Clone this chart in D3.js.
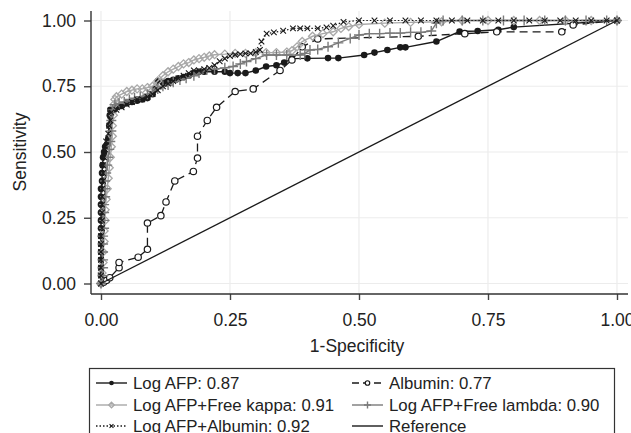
<!DOCTYPE html>
<html><head><meta charset="utf-8">
<script src="https://cdn.jsdelivr.net/npm/d3@7"></script>
<style>body{margin:0;background:#fff}svg{display:block}text{font-family:"Liberation Sans",Arial,Helvetica,sans-serif;fill:#222}</style>
</head><body>
<script>
const xTicks = [0, 0.25, 0.5, 0.75, 1];
const yTicks = [0, 0.25, 0.5, 0.75, 1];
const xTickLabels = ["0.00","0.25","0.50","0.75","1.00"];
const yTickLabels = ["0.00","0.25","0.50","0.75","1.00"];

const logAFP = [[0,0],[0,0.03],[0,0.06],[0,0.09],[0,0.12],[0,0.15],[0,0.18],[0,0.21],[0,0.24],[0,0.27],[0,0.30],[0,0.33],[0,0.36],[0.002,0.39],[0.002,0.42],[0.003,0.45],[0.004,0.48],[0.006,0.50],[0.008,0.52],[0.012,0.53],[0.014,0.55],[0.016,0.60],[0.017,0.64],[0.018,0.66],[0.025,0.66],[0.03,0.67],[0.04,0.675],[0.05,0.685],[0.06,0.69],[0.07,0.695],[0.08,0.70],[0.09,0.705],[0.10,0.72],[0.105,0.74],[0.11,0.77],[0.12,0.765],[0.13,0.77],[0.14,0.775],[0.15,0.78],[0.16,0.785],[0.17,0.79],[0.18,0.80],[0.19,0.805],[0.20,0.805],[0.22,0.805],[0.24,0.805],[0.25,0.80],[0.265,0.80],[0.28,0.80],[0.30,0.81],[0.32,0.825],[0.34,0.83],[0.355,0.84],[0.37,0.855],[0.40,0.856],[0.44,0.857],[0.46,0.857],[0.51,0.869],[0.53,0.878],[0.555,0.888],[0.58,0.898],[0.59,0.898],[0.65,0.92],[0.695,0.958],[0.73,0.96],[0.77,0.965],[0.80,0.975],[1,1]];

const albumin = [[0,0],[0.005,0.005],[0.011,0.012],[0.017,0.022],[0.035,0.06],[0.035,0.08],[0.072,0.10],[0.09,0.13],[0.09,0.23],[0.116,0.258],[0.126,0.31],[0.143,0.39],[0.179,0.426],[0.187,0.477],[0.187,0.56],[0.206,0.62],[0.224,0.67],[0.26,0.73],[0.295,0.74],[0.347,0.81],[0.37,0.85],[0.39,0.90],[0.42,0.93],[0.615,0.94],[0.705,0.95],[0.767,0.957],[0.893,0.957],[0.915,0.983],[1,1]];

const kappa = [[0,0],[0.002,0.04],[0.004,0.08],[0.004,0.12],[0.006,0.16],[0.006,0.20],[0.008,0.24],[0.008,0.28],[0.01,0.32],[0.012,0.36],[0.014,0.40],[0.016,0.44],[0.018,0.48],[0.02,0.52],[0.022,0.56],[0.022,0.60],[0.024,0.64],[0.025,0.68],[0.027,0.70],[0.03,0.71],[0.04,0.72],[0.05,0.73],[0.06,0.735],[0.07,0.74],[0.08,0.74],[0.09,0.745],[0.10,0.75],[0.11,0.77],[0.12,0.79],[0.13,0.805],[0.14,0.815],[0.15,0.825],[0.16,0.835],[0.17,0.84],[0.18,0.85],[0.19,0.855],[0.20,0.86],[0.21,0.865],[0.22,0.87],[0.24,0.872],[0.26,0.875],[0.28,0.875],[0.30,0.878],[0.32,0.878],[0.34,0.878],[0.36,0.88],[0.37,0.885],[0.38,0.90],[0.39,0.92],[0.41,0.94],[0.43,0.95],[0.45,0.957],[0.465,0.97],[0.48,0.977],[0.50,0.985],[0.55,0.99],[0.60,0.993],[0.66,0.995],[0.70,1],[0.75,1],[0.80,1],[0.85,1],[0.90,1],[0.95,1],[1,1]];

const lambda = [[0,0],[0.004,0.03],[0.004,0.06],[0.004,0.09],[0.004,0.12],[0.004,0.15],[0.004,0.18],[0.006,0.21],[0.006,0.24],[0.006,0.27],[0.006,0.30],[0.008,0.33],[0.008,0.36],[0.008,0.39],[0.01,0.42],[0.012,0.45],[0.014,0.48],[0.016,0.51],[0.018,0.54],[0.02,0.58],[0.02,0.62],[0.022,0.66],[0.027,0.68],[0.035,0.685],[0.045,0.69],[0.055,0.70],[0.065,0.705],[0.076,0.71],[0.09,0.72],[0.10,0.73],[0.11,0.74],[0.12,0.75],[0.13,0.755],[0.14,0.765],[0.153,0.774],[0.165,0.78],[0.18,0.79],[0.19,0.80],[0.205,0.812],[0.22,0.815],[0.24,0.82],[0.256,0.825],[0.27,0.835],[0.282,0.844],[0.30,0.855],[0.321,0.869],[0.34,0.869],[0.36,0.869],[0.386,0.869],[0.395,0.875],[0.405,0.888],[0.42,0.89],[0.44,0.90],[0.46,0.915],[0.483,0.932],[0.50,0.945],[0.52,0.95],[0.54,0.95],[0.56,0.952],[0.58,0.952],[0.60,0.955],[0.62,0.955],[0.64,0.96],[0.65,0.99],[0.663,1],[0.70,1],[0.74,1],[0.78,1],[0.82,1],[0.86,1],[0.90,1],[0.94,1],[0.98,1],[1,1]];

const afpAlb = [[0,0],[0,0.03],[0,0.06],[0,0.09],[0,0.12],[0,0.15],[0,0.18],[0.002,0.21],[0.002,0.24],[0.002,0.27],[0.002,0.30],[0.002,0.33],[0.002,0.36],[0.004,0.39],[0.004,0.42],[0.004,0.45],[0.006,0.48],[0.008,0.51],[0.01,0.54],[0.014,0.57],[0.016,0.60],[0.018,0.62],[0.02,0.65],[0.03,0.66],[0.04,0.67],[0.05,0.68],[0.06,0.69],[0.07,0.70],[0.08,0.70],[0.09,0.71],[0.10,0.72],[0.11,0.735],[0.12,0.75],[0.13,0.76],[0.14,0.77],[0.15,0.78],[0.16,0.79],[0.17,0.80],[0.18,0.81],[0.19,0.81],[0.20,0.815],[0.21,0.82],[0.22,0.83],[0.23,0.845],[0.24,0.855],[0.25,0.865],[0.26,0.87],[0.27,0.872],[0.28,0.875],[0.29,0.875],[0.30,0.88],[0.308,0.888],[0.311,0.92],[0.321,0.95],[0.335,0.955],[0.353,0.961],[0.372,0.97],[0.386,0.97],[0.40,0.97],[0.42,0.97],[0.437,0.974],[0.45,0.98],[0.47,0.995],[0.50,1],[0.53,1],[0.56,1],[0.59,1],[0.62,1],[0.65,1],[0.68,1],[0.71,1],[0.74,1],[0.77,1],[0.80,1],[0.83,1],[0.86,1],[0.89,1],[0.92,1],[0.95,1],[0.98,1],[1,1]];

const reference = [[0,0],[1,1]];

const legendLabels = ["Log AFP: 0.87","Albumin: 0.77","Log AFP+Free kappa: 0.91","Log AFP+Free lambda: 0.90","Log AFP+Albumin: 0.92","Reference"];

const W = 631, H = 433;
const svg = d3.select("body").append("svg").attr("width", W).attr("height", H);

const x = d3.scaleLinear().domain([0,1]).range([101, 617]);
const y = d3.scaleLinear().domain([0,1]).range([283.5, 20.5]);
const plotL = 91, plotR = 628, plotT = 11, plotB = 294;

// gridlines
const grid = svg.append("g").attr("stroke", "#ececec").attr("stroke-width", 1.2);
grid.selectAll(".gx").data(xTicks).join("line")
  .attr("x1", d => x(d)).attr("x2", d => x(d)).attr("y1", plotT).attr("y2", plotB);
grid.selectAll(".gy").data(yTicks).join("line")
  .attr("y1", d => y(d)).attr("y2", d => y(d)).attr("x1", plotL).attr("x2", plotR);

// axes
const xAxis = d3.axisBottom(x).tickValues(xTicks).tickFormat((d,i) => xTickLabels[i]).tickSize(6).tickPadding(14);
const gx = svg.append("g").attr("transform", `translate(0,${plotB})`).call(xAxis);
gx.select(".domain").remove();
gx.append("line").attr("x1", plotL).attr("x2", plotR).attr("stroke", "#333").attr("stroke-width", 1.4);
gx.selectAll(".tick line").attr("stroke", "#444").attr("stroke-width", 1.4);
gx.selectAll(".tick text").attr("font-size", 17.5).attr("fill", "#222").attr("font-family", "Liberation Sans, Arial, sans-serif");

const yAxis = d3.axisLeft(y).tickValues(yTicks).tickFormat((d,i) => yTickLabels[i]).tickSize(7).tickPadding(8);
const gy = svg.append("g").attr("transform", `translate(${plotL},0)`).call(yAxis);
gy.select(".domain").remove();
gy.append("line").attr("y1", plotT).attr("y2", plotB).attr("stroke", "#333").attr("stroke-width", 1.4);
gy.selectAll(".tick line").attr("stroke", "#444").attr("stroke-width", 1.4);
gy.selectAll(".tick text").attr("font-size", 17.5).attr("fill", "#222").attr("font-family", "Liberation Sans, Arial, sans-serif");

svg.append("text").attr("x", 357).attr("y", 352).attr("text-anchor", "middle").attr("font-size", 17.5).text("1-Specificity");
svg.append("text").attr("transform", "translate(26,152) rotate(-90)").attr("text-anchor", "middle").attr("font-size", 17.5).text("Sensitivity");

const line = d3.line().x(d => x(d[0])).y(d => y(d[1]));
const plot = svg.append("g");

function drawLine(data, color, width, dash) {
  plot.append("path").datum(data).attr("d", line).attr("fill", "none")
    .attr("stroke", color).attr("stroke-width", width).attr("stroke-dasharray", dash || null);
}
function marker(g, type, cx, cy, s) {
  s = s || 1;
  if (type === "fcircle") g.append("circle").attr("cx", cx).attr("cy", cy).attr("r", 3.3*s).attr("fill", "#1a1a1a");
  else if (type === "ocircle") g.append("circle").attr("cx", cx).attr("cy", cy).attr("r", 3.2*s).attr("fill", "#fff").attr("stroke", "#1a1a1a").attr("stroke-width", 1.2);
  else if (type === "diamond") g.append("path").attr("d", `M${cx},${cy-4*s}L${cx+4*s},${cy}L${cx},${cy+4*s}L${cx-4*s},${cy}Z`).attr("fill", "none").attr("stroke", "#a8a8a8").attr("stroke-width", 1.3);
  else if (type === "plus") g.append("path").attr("d", `M${cx-5*s},${cy}H${cx+5*s}M${cx},${cy-5*s}V${cy+5*s}`).attr("stroke", "#7a7a7a").attr("stroke-width", 1.4);
  else if (type === "cross") g.append("path").attr("d", `M${cx-2.8*s},${cy-2.8*s}L${cx+2.8*s},${cy+2.8*s}M${cx-2.8*s},${cy+2.8*s}L${cx+2.8*s},${cy-2.8*s}`).attr("stroke", "#1a1a1a").attr("stroke-width", 1.1);
}
function drawMarkers(data, type) {
  const g = plot.append("g");
  data.forEach(d => marker(g, type, x(d[0]), y(d[1])));
}

drawLine(logAFP, "#1a1a1a", 1.4);
drawMarkers(logAFP, "fcircle");
drawLine(albumin, "#1a1a1a", 1.3, "8,5");
drawMarkers(albumin, "ocircle");
drawLine(kappa, "#a8a8a8", 1.4);
drawMarkers(kappa, "diamond");
drawLine(lambda, "#7a7a7a", 1.4);
drawMarkers(lambda, "plus");
drawLine(afpAlb, "#1a1a1a", 1.2, "1.5,2");
drawMarkers(afpAlb, "cross");
drawLine(reference, "#1a1a1a", 1.3);

// legend
const leg = svg.append("g");
leg.append("rect").attr("x", 89.5).attr("y", 368.5).attr("width", 525).attr("height", 80)
  .attr("fill", "#fff").attr("stroke", "#333").attr("stroke-width", 1.2);
const legStyles = [
  {color:"#1a1a1a", dash:null, m:"fcircle"},
  {color:"#1a1a1a", dash:"7,4", m:"ocircle"},
  {color:"#a8a8a8", dash:null, m:"diamond"},
  {color:"#7a7a7a", dash:null, m:"plus"},
  {color:"#1a1a1a", dash:"1.5,2", m:"cross"},
  {color:"#1a1a1a", dash:null, m:null}
];
const rowsY = [383, 405, 426];
const colX = [96, 352];
legendLabels.forEach((lab, i) => {
  const col = i % 2, row = Math.floor(i / 2);
  const x0 = colX[col], yy = rowsY[row];
  const st = legStyles[i];
  leg.append("line").attr("x1", x0).attr("x2", x0 + 31).attr("y1", yy).attr("y2", yy)
    .attr("stroke", st.color).attr("stroke-width", 1.4).attr("stroke-dasharray", st.dash);
  if (st.m) marker(leg, st.m, x0 + 15.5, yy, 0.7);
  leg.append("text").attr("x", x0 + 37).attr("y", yy + 6).attr("font-size", 16.8).text(lab);
});
</script>
</body></html>
